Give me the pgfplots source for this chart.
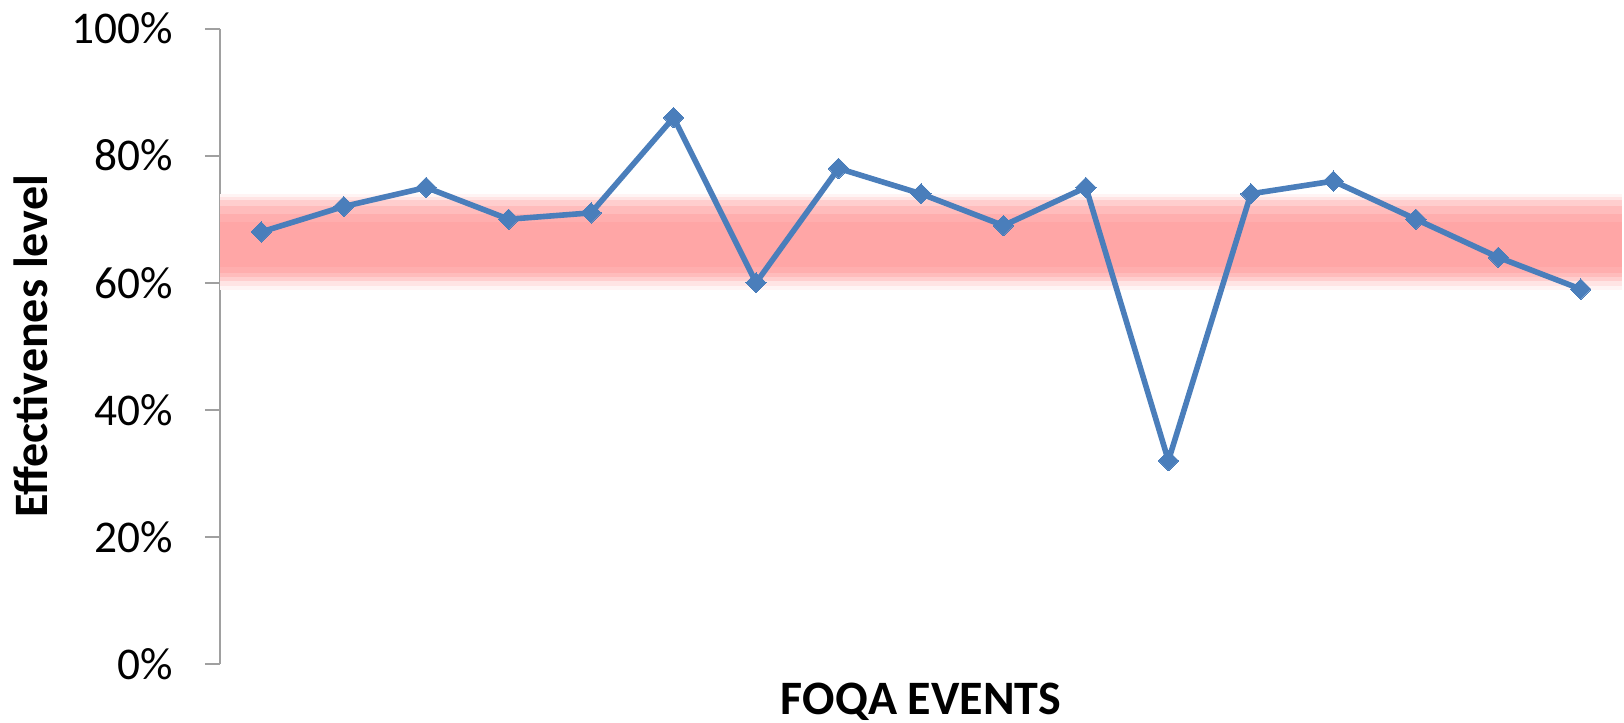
\documentclass[border=0pt]{standalone}
\usepackage{fontspec}
\setmainfont{Carlito}
\usepackage{pgfplots}
\pgfplotsset{compat=1.18}

\definecolor{lineblue}{RGB}{74,126,187}
\definecolor{axgray}{RGB}{160,160,160}
\definecolor{band1}{RGB}{255,244,244}
\definecolor{band2}{RGB}{255,228,228}
\definecolor{band3}{RGB}{255,206,206}
\definecolor{band4}{RGB}{255,188,188}
\definecolor{band5}{RGB}{255,174,174}
\definecolor{band6}{RGB}{255,166,166}

\begin{document}
\begin{tikzpicture}
\useasboundingbox (-110pt,-29.5pt) rectangle (702pt,332pt);
\begin{axis}[
    at={(0pt,0pt)}, anchor=south west,
    scale only axis,
    width=701pt, height=317.7pt,
    xmin=0.5, xmax=17.5,
    ymin=0, ymax=100,
    axis lines=left,
    axis line style={-, axgray, line width=1pt},
    x axis line style={draw=none},
    xtick=\empty,
    ytick={0,20,40,60,80,100},
    yticklabels={0\%,20\%,40\%,60\%,80\%,100\%},
    tick align=outside,
    major tick length=7.5pt,
    every tick/.style={axgray, line width=1pt},
    tick label style={font=\fontsize{22.7}{27}\selectfont},
    yticklabel style={xshift=-12.5pt},
    xlabel={FOQA EVENTS},
    ylabel={Effectivenes level},
    xlabel style={font=\fontsize{24}{28}\selectfont\bfseries,
        at={(axis description cs:0.5,0)}, anchor=base, yshift=-25pt},
    ylabel style={font=\fontsize{24}{28}\selectfont\bfseries,
        at={(axis description cs:0,0.5)}, anchor=south, inner sep=0pt, yshift=86pt},
    clip=true,
]

% target band, layered for soft edges
\addplot[draw=none, fill=band1] coordinates {(0.5,58.9) (17.5,58.9) (17.5,73.9) (0.5,73.9)} -- cycle;
\addplot[draw=none, fill=band2] coordinates {(0.5,59.5) (17.5,59.5) (17.5,73.5) (0.5,73.5)} -- cycle;
\addplot[draw=none, fill=band3] coordinates {(0.5,60.2) (17.5,60.2) (17.5,73.0) (0.5,73.0)} -- cycle;
\addplot[draw=none, fill=band4] coordinates {(0.5,60.9) (17.5,60.9) (17.5,72.1) (0.5,72.1)} -- cycle;
\addplot[draw=none, fill=band5] coordinates {(0.5,61.5) (17.5,61.5) (17.5,70.8) (0.5,70.8)} -- cycle;
\addplot[draw=none, fill=band6] coordinates {(0.5,62.5) (17.5,62.5) (17.5,69.5) (0.5,69.5)} -- cycle;

% effectiveness per event
\addplot[color=lineblue, line width=2.8pt, mark=square*, mark size=3.6pt,
    mark options={rotate=45, solid, fill=lineblue, line width=0pt}] coordinates {
    (1,68) (2,72) (3,75) (4,70) (5,71) (6,86) (7,60) (8,78) (9,74)
    (10,69) (11,75) (12,32) (13,74) (14,76) (15,70) (16,64) (17,59)
};
\end{axis}
\end{tikzpicture}
\end{document}
